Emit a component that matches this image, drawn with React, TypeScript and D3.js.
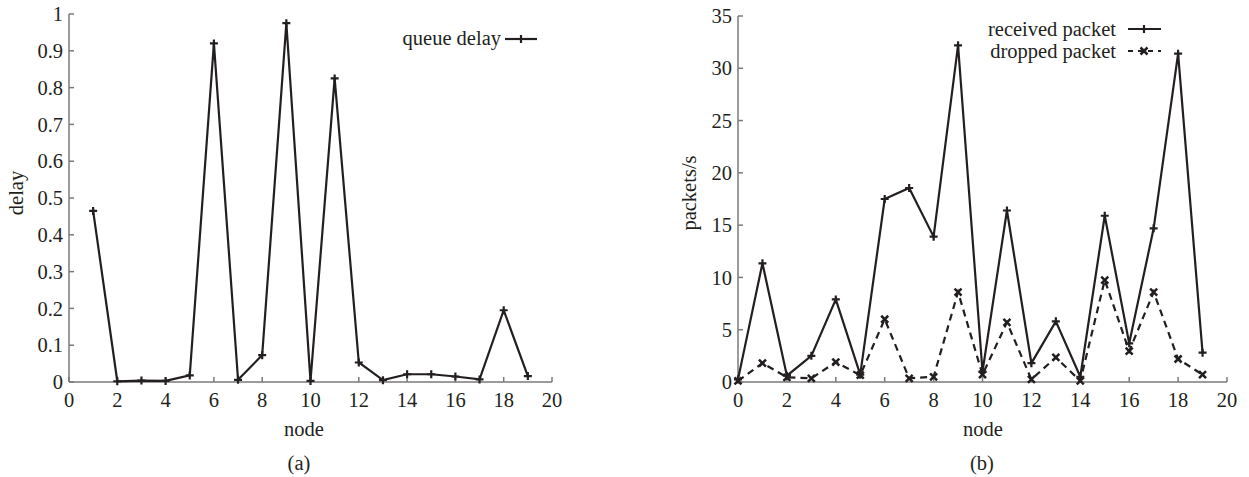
import * as d3 from "d3";
import React from "react";

// node ids
const nodesA = [1, 2, 3, 4, 5, 6, 7, 8, 9, 10, 11, 12, 13, 14, 15, 16, 17, 18, 19];
const queueDelay = [0.465, 0.002, 0.004, 0.003, 0.018, 0.92, 0.006, 0.073, 0.975, 0.003, 0.825, 0.053, 0.005, 0.021, 0.021, 0.015, 0.007, 0.195, 0.016];

const nodesB = [0, 1, 2, 3, 4, 5, 6, 7, 8, 9, 10, 11, 12, 13, 14, 15, 16, 17, 18, 19];
const received = [0.25, 11.35, 0.6, 2.5, 7.9, 0.7, 17.5, 18.55, 13.9, 32.2, 1.0, 16.4, 1.8, 5.8, 0.5, 15.9, 3.7, 14.7, 31.4, 2.8];
const dropped = [0.1, 1.8, 0.45, 0.35, 1.9, 0.65, 6.0, 0.35, 0.5, 8.6, 0.7, 5.7, 0.25, 2.35, 0.1, 9.75, 2.95, 8.6, 2.2, 0.7];

const xTicks = [0, 2, 4, 6, 8, 10, 12, 14, 16, 18, 20];
const yTicksA = [0, 0.1, 0.2, 0.3, 0.4, 0.5, 0.6, 0.7, 0.8, 0.9, 1];
const yTicksB = [0, 5, 10, 15, 20, 25, 30, 35];

const font = "'Liberation Serif', 'Times New Roman', serif";
const ink = "#231f20";
const axisColor = "#7a7a7a";
const fs = 20.5;

const xA = d3.scaleLinear().domain([0, 20]).range([69, 552]);
const yA = d3.scaleLinear().domain([0, 1]).range([382, 14]);
const xB = d3.scaleLinear().domain([0, 20]).range([738, 1227]);
const yB = d3.scaleLinear().domain([0, 35]).range([382, 16]);

const Plus = ({ x, y }: { x: number; y: number }) => (
  <path d={`M${x - 4},${y}H${x + 4}M${x},${y - 4}V${y + 4}`} stroke={ink} strokeWidth={2.2} />
);
const Cross = ({ x, y }: { x: number; y: number }) => (
  <path d={`M${x - 3.5},${y - 3.5}L${x + 3.5},${y + 3.5}M${x - 3.5},${y + 3.5}L${x + 3.5},${y - 3.5}`} stroke={ink} strokeWidth={2.5} />
);

const Axes = ({ x, y, yTicks, fmt }: any) => {
  const [x0, x1] = x.range();
  const [y0, y1] = y.range();
  return (
    <g fontFamily={font} fontSize={fs} fill={ink}>
      <line x1={x0} x2={x1} y1={y0} y2={y0} stroke={axisColor} strokeWidth={1.5} />
      <line x1={x0} x2={x0} y1={y0} y2={y1} stroke={axisColor} strokeWidth={1.5} />
      {xTicks.map((t) => (
        <g key={"x" + t}>
          <line x1={x(t)} x2={x(t)} y1={y0} y2={y0 - 5} stroke={axisColor} strokeWidth={1.5} />
          <text x={x(t)} y={y0 + 25} textAnchor="middle">{t}</text>
        </g>
      ))}
      {yTicks.map((t: number) => (
        <g key={"y" + t}>
          <line x1={x0} x2={x0 + 5} y1={y(t)} y2={y(t)} stroke={axisColor} strokeWidth={1.5} />
          <text x={x0 - 6} y={y(t)} dy="0.35em" textAnchor="end">{fmt(t)}</text>
        </g>
      ))}
    </g>
  );
};

export default function App() {
  const lineA = d3.line<number>().x((_, i) => xA(nodesA[i])).y((d) => yA(d));
  const lineB = d3.line<number>().x((_, i) => xB(nodesB[i])).y((d) => yB(d));

  return (
    <svg width={1249} height={477} style={{ position: "absolute", left: 0, top: 0, background: "#fff" }}>
      {/* (a) queue delay */}
      <Axes x={xA} y={yA} yTicks={yTicksA} fmt={(t: number) => String(+t.toFixed(1))} />
      <path d={lineA(queueDelay) || ""} fill="none" stroke={ink} strokeWidth={2.2} />
      {queueDelay.map((d, i) => <Plus key={i} x={xA(nodesA[i])} y={yA(d)} />)}
      <g fontFamily={font} fontSize={fs} fill={ink}>
        <text transform="translate(16,193) rotate(-90)" textAnchor="middle" dy="0.35em">delay</text>
        <text x={304} y={429} dy="0.35em" textAnchor="middle">node</text>
        <text x={299} y={463} dy="0.35em" textAnchor="middle">(a)</text>
        <text x={501} y={38} dy="0.35em" textAnchor="end">queue delay</text>
      </g>
      <line x1={505} x2={537} y1={39} y2={39} stroke={ink} strokeWidth={2.2} />
      <Plus x={521} y={39} />

      {/* (b) packets */}
      <Axes x={xB} y={yB} yTicks={yTicksB} fmt={(t: number) => String(t)} />
      <path d={lineB(dropped) || ""} fill="none" stroke={ink} strokeWidth={2.2} strokeDasharray="7,5" />
      <path d={lineB(received) || ""} fill="none" stroke={ink} strokeWidth={2.2} />
      {dropped.map((d, i) => <Cross key={"d" + i} x={xB(nodesB[i])} y={yB(d)} />)}
      {received.map((d, i) => <Plus key={"r" + i} x={xB(nodesB[i])} y={yB(d)} />)}
      <g fontFamily={font} fontSize={fs} fill={ink}>
        <text transform="translate(689,193) rotate(-90)" textAnchor="middle" dy="0.35em">packets/s</text>
        <text x={983} y={429} dy="0.35em" textAnchor="middle">node</text>
        <text x={982} y={463} dy="0.35em" textAnchor="middle">(b)</text>
        <text x={1116} y={29} dy="0.35em" textAnchor="end">received packet</text>
        <text x={1116} y={51} dy="0.35em" textAnchor="end">dropped packet</text>
      </g>
      <line x1={1128} x2={1161} y1={29} y2={29} stroke={ink} strokeWidth={2.2} />
      <Plus x={1144} y={29} />
      <line x1={1128} x2={1161} y1={51} y2={51} stroke={ink} strokeWidth={2.2} strokeDasharray="5,5" />
      <Cross x={1144} y={51} />
    </svg>
  );
}
